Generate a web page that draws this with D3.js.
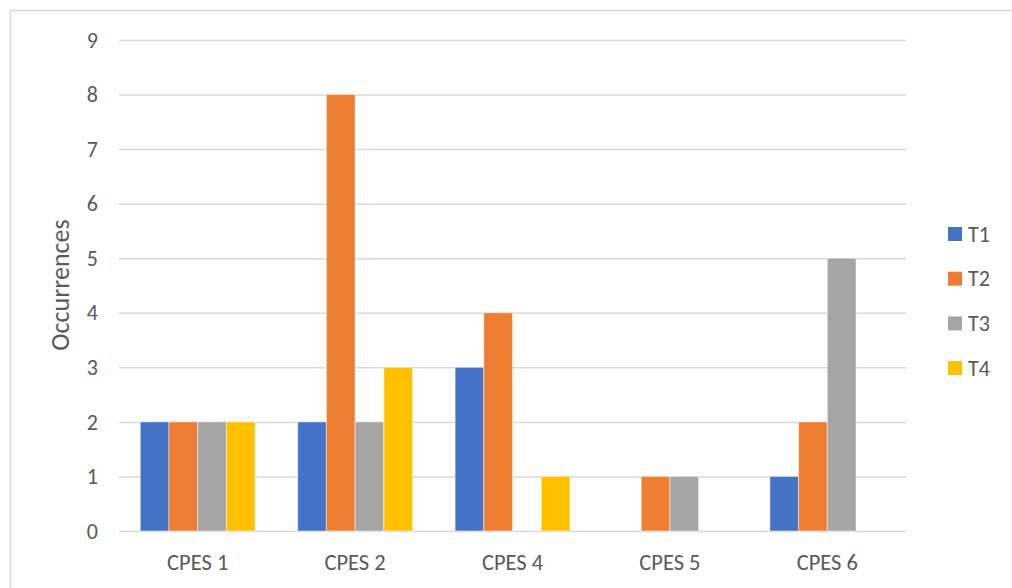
<!DOCTYPE html>
<html>
<head>
<meta charset="utf-8">
<script src="https://cdn.jsdelivr.net/npm/d3@7"></script>
<style>
  html, body { margin: 0; padding: 0; background: #fff; }
  svg { display: block; }
  text { font-family: Carlito, Lato, "Open Sans", sans-serif; fill: #595959; }
</style>
</head>
<body>
<svg id="chart" width="1012" height="588"></svg>
<script>
// Occurrences per CPES category, one series per T-group
const categories = ["CPES 1", "CPES 2", "CPES 4", "CPES 5", "CPES 6"];
const seriesNames = ["T1", "T2", "T3", "T4"];
const t1 = [2, 2, 3, 0, 1];
const t2 = [2, 8, 4, 1, 2];
const t3 = [2, 2, 0, 1, 5];
const t4 = [2, 3, 1, 0, 0];
const yTicks = [0, 1, 2, 3, 4, 5, 6, 7, 8, 9];
const colors = ["#4472C4", "#ED7D31", "#A5A5A5", "#FFC000"];
const seriesValues = [t1, t2, t3, t4];

const svg = d3.select("#chart");

// chart frame
svg.append("rect")
  .attr("x", 10.5).attr("y", 10.5)
  .attr("width", 1200).attr("height", 800)
  .attr("fill", "none").attr("stroke", "#d9d9d9").attr("stroke-width", 1.5);

const plot = { left: 119, right: 906, top: 40, bottom: 531 };

const x0 = d3.scaleBand()
  .domain(categories)
  .range([plot.left, plot.right])
  .paddingInner(0).paddingOuter(0);

const x1 = d3.scaleBand()
  .domain(seriesNames)
  .range([0, x0.bandwidth()])
  .paddingInner(0)
  .paddingOuter(0.742);

const y = d3.scaleLinear().domain([0, 9]).range([plot.bottom, plot.top]);

// gridlines
svg.append("g")
  .selectAll("line")
  .data(yTicks)
  .join("line")
  .attr("x1", plot.left).attr("x2", plot.right)
  .attr("y1", d => y(d) + 0.5).attr("y2", d => y(d) + 0.5)
  .attr("stroke", "#d9d9d9").attr("stroke-width", 1.5);

// y tick labels
svg.append("g")
  .selectAll("text")
  .data(yTicks)
  .join("text")
  .attr("x", 98)
  .attr("y", d => y(d))
  .attr("dy", "0.35em")
  .attr("text-anchor", "end")
  .style("font-size", "22px")
  .text(d => d);

// bars
const rows = categories.map((c, i) => ({
  category: c,
  values: seriesNames.map((s, j) => ({ series: s, value: seriesValues[j][i], color: colors[j] }))
}));

svg.append("g")
  .selectAll("g")
  .data(rows)
  .join("g")
  .attr("transform", d => `translate(${x0(d.category)},0)`)
  .selectAll("rect")
  .data(d => d.values.filter(v => v.value > 0))
  .join("rect")
  .attr("x", d => x1(d.series))
  .attr("width", x1.bandwidth())
  .attr("y", d => y(d.value))
  .attr("height", d => y(0) - y(d.value))
  .attr("fill", d => d.color)
  .attr("stroke", "#ffffff")
  .attr("stroke-opacity", 0.5)
  .attr("stroke-width", 1);

// x category labels
svg.append("g")
  .selectAll("text")
  .data(categories)
  .join("text")
  .attr("x", d => x0(d) + x0.bandwidth() / 2)
  .attr("y", 570)
  .attr("text-anchor", "middle")
  .style("font-size", "22.5px")
  .text(d => d);

// y axis title
svg.append("text")
  .attr("transform", "translate(69,285) rotate(-90)")
  .attr("text-anchor", "middle")
  .style("font-size", "26px")
  .text("Occurrences");

// legend
const legend = svg.append("g")
  .selectAll("g")
  .data(seriesNames)
  .join("g")
  .attr("transform", (d, i) => `translate(948,${234 + i * 44.7})`);

legend.append("rect")
  .attr("x", 0).attr("y", -7)
  .attr("width", 14).attr("height", 14)
  .attr("fill", (d, i) => colors[i]);

legend.append("text")
  .attr("x", 20).attr("y", 0)
  .attr("dy", "0.35em")
  .style("font-size", "22px")
  .text(d => d);
</script>
</body>
</html>
